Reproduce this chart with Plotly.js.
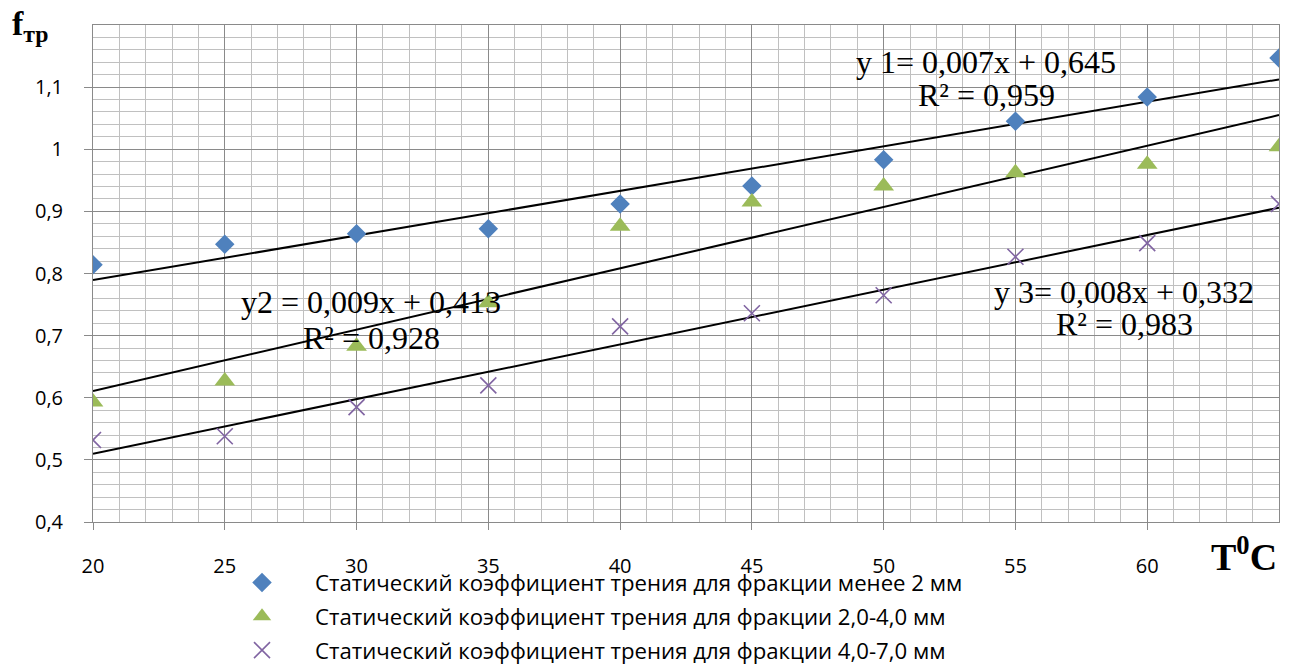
<!DOCTYPE html>
<html>
<head>
<meta charset="utf-8">
<script src="https://cdn.plot.ly/plotly-3.0.1.min.js"></script>
<style>html,body{margin:0;padding:0;background:#fff;}#chart{width:1293px;height:666px;}</style>
</head>
<body>
<div id="chart"></div>
<script>
const temperature = [20, 25, 30, 35, 40, 45, 50, 55, 60, 65];
const fracLess2 = [0.814, 0.847, 0.864, 0.872, 0.912, 0.941, 0.983, 1.045, 1.084, 1.147];
const frac2to4 = [0.593, 0.627, 0.683, 0.753, 0.876, 0.915, 0.941, 0.962, 0.976, 1.004];
const frac4to7 = [0.532, 0.538, 0.585, 0.620, 0.715, 0.736, 0.765, 0.827, 0.849, 0.912];
const seriesNames = [
  "Статический коэффициент трения для фракции менее 2 мм",
  "Статический коэффициент трения для фракции 2,0-4,0 мм",
  "Статический коэффициент трения для фракции 4,0-7,0 мм"
];
const equationLabels = [
  ["y 1= 0,007x + 0,645", "R² = 0,959"],
  ["y2 = 0,009x + 0,413", "R² = 0,928"],
  ["y 3= 0,008x + 0,332", "R² = 0,983"]
];
const yTickVals = [0.4, 0.5, 0.6, 0.7, 0.8, 0.9, 1.0, 1.1];
const yTickText = ["0,4", "0,5", "0,6", "0,7", "0,8", "0,9", "1", "1,1"];
const xTickVals = [20, 25, 30, 35, 40, 45, 50, 55, 60];

function linfit(xs, ys) {
  const n = xs.length;
  const mx = xs.reduce((a, b) => a + b, 0) / n;
  const my = ys.reduce((a, b) => a + b, 0) / n;
  let sxy = 0, sxx = 0;
  for (let i = 0; i < n; i++) { sxy += (xs[i] - mx) * (ys[i] - my); sxx += (xs[i] - mx) ** 2; }
  const b = sxy / sxx;
  const a = my - b * mx;
  const x0 = xs[0], x1 = xs[n - 1];
  return { x: [x0, x1], y: [a + b * x0, a + b * x1] };
}

const allSeries = [fracLess2, frac2to4, frac4to7];
const markers = [
  { symbol: "diamond", size: 15, color: "#4F81BD" },
  { symbol: "triangle-up", size: 18, color: "#9BBB59" },
  { symbol: "x-thin-open", size: 16, color: "#8064A2", line: { width: 1.6, color: "#8064A2" } }
];

const traces = [];
allSeries.forEach((ys, i) => {
  const f = linfit(temperature, ys);
  traces.push({ x: f.x, y: f.y, mode: "lines", line: { color: "#000", width: 2 }, showlegend: false, hoverinfo: "skip" });
});
allSeries.forEach((ys, i) => {
  traces.push({ x: temperature, y: ys, mode: "markers", name: seriesNames[i], legendgroup: "g" + i, marker: markers[i] });
});

const serif = "Liberation Serif, Times New Roman, serif";
const eqFont = { family: serif, size: 32, color: "#000" };
const eqPos = [[986, 1.140, 1.087], [371, 0.754, 0.696], [1124, 0.770, 0.718]];
const annotations = [];
equationLabels.forEach((lab, i) => {
  annotations.push({ xref: "paper", yref: "y", x: (eqPos[i][0] - 93) / 1186, y: eqPos[i][1], text: lab[0], showarrow: false, font: eqFont, xanchor: "center", yanchor: "middle" });
  annotations.push({ xref: "paper", yref: "y", x: (eqPos[i][0] - 93) / 1186, y: eqPos[i][2], text: lab[1], showarrow: false, font: eqFont, xanchor: "center", yanchor: "middle" });
});
annotations.push({ xref: "paper", yref: "paper", x: (10 - 93) / 1186, y: 1 + 22 / 497, xanchor: "left", yanchor: "top",
  text: "<b>f<sub>тр</sub></b>", showarrow: false, font: { family: serif, size: 34, color: "#000" } });
annotations.push({ xref: "paper", yref: "paper", x: 1, y: -0.064, xanchor: "right", yanchor: "middle",
  text: "<b>T<sup>0</sup>C</b>", showarrow: false, font: { family: serif, size: 38, color: "#000" } });

const layout = {
  width: 1293, height: 666,
  margin: { l: 93, r: 14, t: 25, b: 144, autoexpand: false },
  paper_bgcolor: "#fff", plot_bgcolor: "#fff",
  separators: ", ",
  font: { family: "Open Sans, sans-serif", size: 18, color: "#000" },
  xaxis: {
    range: [20, 65], tickmode: "array", tickvals: xTickVals,
    showgrid: true, gridcolor: "#8a8a8a", gridwidth: 1,
    minor: { tick0: 20, dtick: 1, showgrid: true, gridcolor: "#c0c0c0", gridwidth: 1 },
    ticks: "outside", ticklen: 7, tickcolor: "#8a8a8a",
    showline: true, linecolor: "#8a8a8a", linewidth: 1, mirror: true,
    zeroline: false, ticklabelstandoff: 19,
    tickfont: { family: "Open Sans, sans-serif", size: 20 }
  },
  yaxis: {
    range: [0.4, 1.2], tickmode: "array", tickvals: yTickVals, ticktext: yTickText,
    showgrid: true, gridcolor: "#8a8a8a", gridwidth: 1,
    minor: { tick0: 0.4, dtick: 0.02, showgrid: true, gridcolor: "#c0c0c0", gridwidth: 1 },
    ticks: "outside", ticklen: 8, tickcolor: "#8a8a8a",
    showline: true, linecolor: "#8a8a8a", linewidth: 1, mirror: true,
    zeroline: false, ticklabelstandoff: 17,
    tickfont: { family: "Open Sans, sans-serif", size: 20 }
  },
  legend: {
    x: (209 - 93) / 1186, y: -0.0795, xanchor: "left", yanchor: "top",
    font: { family: "Open Sans, sans-serif", size: 22.2, color: "#000" },
    bgcolor: "rgba(0,0,0,0)", tracegroupgap: 2, itemwidth: 96
  },
  annotations: annotations,
  showlegend: true
};

Plotly.newPlot("chart", traces, layout, { displayModeBar: false, staticPlot: true });
</script>
</body>
</html>
